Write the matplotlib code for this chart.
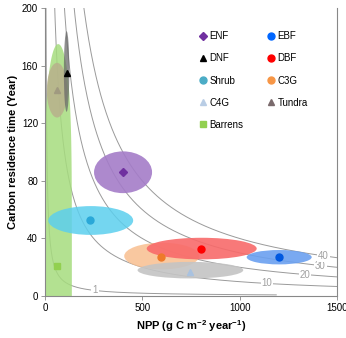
import numpy as np
import matplotlib.pyplot as plt
from matplotlib.patches import Ellipse, Polygon
from matplotlib.lines import Line2D

plt.rcParams['font.family'] = ['Liberation Sans', 'DejaVu Sans']
plt.rcParams['mathtext.default'] = 'regular'

# biome data: mean NPP, mean residence time, ellipse width/height (data units)
biomes = ['ENF', 'EBF', 'DNF', 'DBF', 'Shrub', 'C3G', 'C4G', 'Tundra', 'Barrens']
npp = [399, 1203, 111, 800, 231, 596, 746, 63, 63]
tau = [86, 27, 155, 33, 53, 27, 17, 143, 21]
ell_w = [298, 334, 28, 565, 436, 386, 543, 105, 140]
ell_h = [29, 10, 56, 15, 20, 18.5, 11.5, 38, 350]
ell_cy = [86, 27, 156, 33, 52.5, 27.8, 18, 143, 0]
ell_cx = [401, 1203, 111, 805, 235, 600, 747, 62, 68]
ell_col = ['#a47cc8', '#6aa0f0', '#6a6a6a', '#f86a6a', '#5ccfee', '#f9bf90',
           '#c4c4c4', '#b8b08c', '#a6dc7e']
ell_alpha = [0.9, 0.9, 0.75, 0.9, 0.85, 0.85, 0.9, 0.85, 0.85]
mk_col = ['#7030a0', '#0058e0', '#000000', '#ff0000', '#2aa8d8', '#ee7a2a',
          '#a9c2e0', '#a09a80', '#92d050']
leg_col = ['#7030a0', '#0066ff', '#000000', '#ff0000', '#4bacc6', '#f79646',
           '#b9cde5', '#7a6a6c', '#92d050']
mk_shape = ['D', 'o', '^', 'o', 'o', 'o', '^', '^', 's']
mk_size = [4, 5, 5, 5, 5, 5, 4, 4, 5]

# carbon storage isolines (kg C m-2) and label positions
levels = [1, 10, 20, 30, 40]
lab_x = [257, 1140, 1335, 1415, 1430]

fig = plt.figure(figsize=(3.46, 3.38), dpi=100)
ax = fig.add_axes([0.130, 0.124, 0.844, 0.852])

xs = np.linspace(5, 1500, 600)
for lv, lx in zip(levels, lab_x):
    xe = 1190 if lv == 1 else 1500
    xx = xs[xs <= xe]
    ax.plot(xx, lv * 1000 / xx, color='#9a9a9a', lw=0.7, zorder=1)
    ax.text(lx, lv * 1000 / lx, str(lv), fontsize=7, color='#a0a0a0',
            ha='center', va='center', zorder=1.5,
            bbox=dict(facecolor='white', edgecolor='none', pad=0.6))

order = [8, 0, 4, 5, 6, 3, 1, 7, 2]
for i in order:
    if biomes[i] == 'Barrens':
        # tall range, flat-sided with a rounded top
        t = np.linspace(0, 2 * np.pi, 300)
        px = ell_cx[i] + ell_w[i] / 2 * np.cos(t)
        py = ell_cy[i] + ell_h[i] / 2 * np.sign(np.sin(t)) * np.abs(np.sin(t)) ** (2 / 5)
        ax.add_patch(Polygon(np.column_stack([px, py]), closed=True,
                             facecolor=ell_col[i], edgecolor='none',
                             alpha=ell_alpha[i], zorder=2))
    else:
        ax.add_patch(Ellipse((ell_cx[i], ell_cy[i]), ell_w[i], ell_h[i],
                             facecolor=ell_col[i], edgecolor='none',
                             alpha=ell_alpha[i], zorder=2))
for i in order:
    ax.plot(npp[i], tau[i], marker=mk_shape[i], color=mk_col[i],
            ms=mk_size[i], ls='none', zorder=3)

ax.set_xlim(0, 1500)
ax.set_ylim(0, 200)
ax.set_xticks([0, 500, 1000, 1500])
ax.set_yticks([0, 40, 80, 120, 160, 200])
ax.tick_params(labelsize=7, length=3, width=0.6, color='#888888', pad=2)
for s in ['left', 'bottom', 'right']:
    ax.spines[s].set_color('#888888')
    ax.spines[s].set_linewidth(0.8)
ax.spines['top'].set_visible(False)
ax.set_xlabel('NPP (g C m$^{-2}$ year$^{-1}$)', fontsize=8, fontweight='bold', labelpad=4)
ax.set_ylabel('Carbon residence time (Year)', fontsize=8, fontweight='bold', labelpad=3)

# legend: column-wise fill
leg_order = [0, 2, 4, 6, 8, 1, 3, 5, 7]
handles = [Line2D([], [], marker=mk_shape[i], color=leg_col[i], ls='none',
                  ms=mk_size[i]) for i in leg_order]
ax.legend(handles, [biomes[i] for i in leg_order], ncol=2, frameon=False,
          fontsize=7, loc='upper right', bbox_to_anchor=(0.93, 0.95),
          handletextpad=0.1, columnspacing=2.2, labelspacing=1.25,
          handlelength=1.2)

fig.savefig('out.png', dpi=100)
